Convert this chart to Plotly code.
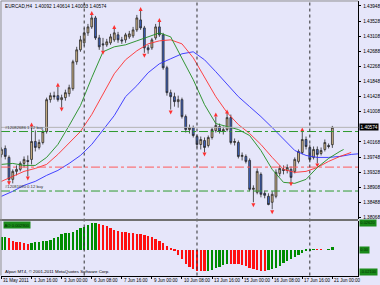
import plotly.graph_objects as go

W, H = 380, 285

# ---------------- data ----------------
open_ = [1.39821, 1.39987, 1.39738, 1.39128, 1.39350, 1.39405, 1.39571, 1.39654, 1.39682, 1.40181,
         1.40015, 1.40153, 1.40458, 1.41344, 1.41455, 1.41455, 1.41344, 1.41400, 1.41510, 1.41649,
         1.42397, 1.42729, 1.42923, 1.43200, 1.43366, 1.43615, 1.43061, 1.42895, 1.42868, 1.42923,
         1.43006, 1.43145, 1.43006, 1.43006, 1.43089, 1.43117, 1.43283, 1.43560, 1.43338, 1.42784,
         1.42784, 1.43061, 1.43366, 1.43145, 1.42231, 1.41538, 1.41427, 1.41289, 1.41344, 1.40873,
         1.40513, 1.40568, 1.40319, 1.40098, 1.40208, 1.40070, 1.40292, 1.40485, 1.40596, 1.40458,
         1.40513, 1.40845, 1.40153, 1.40153, 1.39765, 1.39765, 1.39654, 1.38851, 1.38768, 1.39267,
         1.38740, 1.38657, 1.38491, 1.38657, 1.39294, 1.39405, 1.39377, 1.39405, 1.39350, 1.39627,
         1.39876, 1.40236, 1.40015, 1.39738, 1.39959, 1.39848, 1.39959, 1.40070, 1.40092]
high = [1.40015, 1.40070, 1.39793, 1.39405, 1.39516, 1.39627, 1.39765, 1.39793, 1.40596, 1.40485,
        1.40236, 1.40513, 1.41400, 1.41538, 1.41566, 1.41704, 1.41482, 1.41621, 1.41759, 1.42452,
        1.42812, 1.43117, 1.43338, 1.43449, 1.43726, 1.43671, 1.43145, 1.43061, 1.43034, 1.43172,
        1.43311, 1.43228, 1.43089, 1.43200, 1.43255, 1.43366, 1.43699, 1.43809, 1.43394, 1.42868,
        1.43061, 1.43449, 1.43505, 1.43200, 1.42286, 1.41621, 1.41538, 1.41455, 1.41400, 1.40929,
        1.40652, 1.40624, 1.40375, 1.40319, 1.40292, 1.40347, 1.40568, 1.40873, 1.40679, 1.40596,
        1.40984, 1.40929, 1.40264, 1.40208, 1.39876, 1.39821, 1.39710, 1.38962, 1.39433, 1.39322,
        1.38823, 1.38740, 1.38796, 1.39405, 1.39516, 1.39516, 1.39544, 1.39488, 1.39738, 1.39959,
        1.40485, 1.40319, 1.40098, 1.40042, 1.40042, 1.40015, 1.40236, 1.40126, 1.40614]
low = [1.39738, 1.39682, 1.39045, 1.39017, 1.39239, 1.39350, 1.39460, 1.39211, 1.39544, 1.39904,
       1.39959, 1.40098, 1.40402, 1.41261, 1.41344, 1.41289, 1.41122, 1.41316, 1.41427, 1.41593,
       1.42314, 1.42674, 1.42840, 1.43117, 1.43311, 1.43006, 1.42729, 1.42701, 1.42812, 1.42868,
       1.42951, 1.42923, 1.42895, 1.42923, 1.43034, 1.43061, 1.43228, 1.43283, 1.42646, 1.42618,
       1.42729, 1.43006, 1.43089, 1.42175, 1.41455, 1.41067, 1.41150, 1.41122, 1.40818, 1.40430,
       1.40402, 1.40292, 1.40015, 1.39959, 1.39876, 1.40015, 1.40236, 1.40430, 1.40402, 1.40375,
       1.40458, 1.40098, 1.40070, 1.39710, 1.39654, 1.39571, 1.38796, 1.38491, 1.38713, 1.38629,
       1.38602, 1.38408, 1.38297, 1.38602, 1.39211, 1.39267, 1.39294, 1.39045, 1.39294, 1.39571,
       1.39821, 1.39959, 1.39599, 1.39682, 1.39571, 1.39793, 1.39904, 1.39987, 1.40003]
close = [1.39959, 1.39765, 1.39128, 1.39350, 1.39405, 1.39571, 1.39682, 1.39627, 1.40181, 1.40015,
         1.40153, 1.40458, 1.41344, 1.41455, 1.41427, 1.41344, 1.41400, 1.41538, 1.41676, 1.42397,
         1.42729, 1.43006, 1.43200, 1.43366, 1.43615, 1.43061, 1.42812, 1.42868, 1.42951, 1.43089,
         1.43200, 1.43006, 1.42978, 1.43145, 1.43172, 1.43283, 1.43615, 1.43338, 1.42784, 1.42729,
         1.43006, 1.43366, 1.43145, 1.42231, 1.41538, 1.41427, 1.41289, 1.41344, 1.40873, 1.40513,
         1.40568, 1.40347, 1.40098, 1.40236, 1.40015, 1.40292, 1.40513, 1.40624, 1.40458, 1.40513,
         1.40845, 1.40153, 1.40181, 1.39765, 1.39793, 1.39627, 1.38851, 1.38879, 1.39350, 1.38713,
         1.38685, 1.38429, 1.38713, 1.39322, 1.39433, 1.39377, 1.39460, 1.39183, 1.39682, 1.39904,
         1.40236, 1.40042, 1.39682, 1.39959, 1.39821, 1.39931, 1.40153, 1.40042, 1.40574]
bars = list(range(len(close)))

time_labels = ["31 May 2011", "1 Jun 16:00", "3 Jun 00:00", "6 Jun 08:00", "7 Jun 16:00",
               "9 Jun 00:00", "10 Jun 08:00", "13 Jun 16:00", "15 Jun 00:00", "16 Jun 08:00",
               "17 Jun 16:00", "21 Jun 00:00"]
time_label_bars = [0, 8, 16, 24, 32, 40, 48, 56, 64, 72, 80, 88]
week_separator_bars = [22, 52, 82]

# Alligator lines (drawn positions, already shifted)
lips_x = [0, 3, 6, 9, 12, 15, 18, 21, 24, 27, 30, 33, 36, 39, 42, 45, 48, 51, 54, 57, 60, 63, 66,
          69, 72, 75, 78, 81, 84, 87, 90, 91]
lips = [1.39544, 1.39571, 1.39516, 1.39516, 1.39738, 1.40098, 1.40624, 1.41178, 1.41953, 1.42674,
        1.42812, 1.42868, 1.42978, 1.43089, 1.43200, 1.43089, 1.42480, 1.41898, 1.41206, 1.40679,
        1.40596, 1.40513, 1.40347, 1.39931, 1.39405, 1.39045, 1.39017, 1.39128, 1.39460, 1.39710,
        1.39904, 1.39959]
teeth_x = [0, 3, 6, 9, 12, 15, 18, 21, 24, 27, 30, 33, 36, 39, 42, 45, 48, 51, 54, 57, 60, 63, 66,
           69, 72, 75, 78, 81, 84, 87, 90, 93]
teeth = [1.39073, 1.39211, 1.39350, 1.39433, 1.39544, 1.39821, 1.40153, 1.40458, 1.40929, 1.41510,
         1.42064, 1.42452, 1.42701, 1.42895, 1.42978, 1.43006, 1.42895, 1.42508, 1.41981, 1.41427,
         1.40984, 1.40652, 1.40402, 1.40098, 1.39738, 1.39405, 1.39322, 1.39350, 1.39460, 1.39627,
         1.39765, 1.39876]
jaw_x = [0, 3, 6, 9, 12, 15, 18, 21, 24, 27, 30, 33, 36, 39, 42, 45, 48, 51, 54, 57, 60, 63, 66,
         69, 72, 75, 78, 81, 84, 87, 90, 93, 96]
jaw = [1.38657, 1.38796, 1.38962, 1.39073, 1.39239, 1.39377, 1.39571, 1.39793, 1.40098, 1.40485,
       1.40901, 1.41427, 1.41732, 1.42092, 1.42341, 1.42480, 1.42618, 1.42674, 1.42452, 1.42120,
       1.41787, 1.41427, 1.41150, 1.40873, 1.40568, 1.40236, 1.39931, 1.39793, 1.39738, 1.39738,
       1.39765, 1.39821, 1.39848]

# Fractals
frac_up_bars = [8, 15, 24, 30, 37, 42, 57, 60, 80]
frac_up_pos = [1.40707, 1.41815, 1.43809, 1.43422, 1.43920, 1.43615, 1.40984, 1.41067, 1.40568]
frac_dn_bars = [2, 7, 16, 27, 38, 45, 54, 67, 72, 77, 84]
frac_dn_pos = [1.38962, 1.39100, 1.41012, 1.42591, 1.42508, 1.40929, 1.39765, 1.38352, 1.38159,
               1.38934, 1.39460]

# Awesome Oscillator
ao = [0.0126, 0.0127, 0.0113, 0.0090, 0.0081, 0.0075, 0.0065, 0.0061, 0.0068, 0.0075,
      0.0078, 0.0084, 0.0090, 0.0100, 0.0113, 0.0126, 0.0152, 0.0162, 0.0165, 0.0178,
      0.0194, 0.0210, 0.0226, 0.0245, 0.0259, 0.0262, 0.0255, 0.0243, 0.0230, 0.0210,
      0.0197, 0.0184, 0.0178, 0.0172, 0.0168, 0.0162, 0.0158, 0.0152, 0.0143, 0.0133,
      0.0123, 0.0107, 0.0087, 0.0068, 0.0042, 0.0010, -0.0007, -0.0046, -0.0087, -0.0136,
      -0.0168, -0.0184, -0.0201, -0.0207, -0.0210, -0.0204, -0.0191, -0.0178, -0.0162, -0.0146,
      -0.0133, -0.0134, -0.0135, -0.0136, -0.0146, -0.0158, -0.0172, -0.0184, -0.0194, -0.0201,
      -0.0204, -0.0194, -0.0184, -0.0172, -0.0152, -0.0129, -0.0110, -0.0087, -0.0068, -0.0049,
      -0.0029, -0.0013, -0.0004, 0.0003, 0.0002, 0.0001, 0.0000, 0.0005, 0.0029]

price_ticks = [1.43948, 1.43528, 1.43108, 1.42688, 1.42268, 1.41848, 1.41428, 1.41008,
               1.40168, 1.39748, 1.39328, 1.38908, 1.38488, 1.38068]
bid = 1.40574
order_lines = [1.40458, 1.38804]
order_labels = ["#12082686 1.12 buy", "#12081690 0.12 buy"]
stop_line = 1.39469
header = "EURCAD,H4  1.40092 1.40614 1.40003 1.40574"
copyright_txt = "Alpari MT4, \u00a9 2001-2011 MetaQuotes Software Corp."

# ---------------- layout geometry ----------------
BG = "#e6e6fa"
FONT = "Liberation Sans"
FS = 4.7
px = lambda v: v / W
py = lambda v: 1 - v / H
X0, X1 = px(1), px(362)
MAIN = [py(220), py(1)]
SUB = [py(276.5), py(222)]

fig = go.Figure()

fig.add_trace(go.Candlestick(
    x=bars, open=open_, high=high, low=low, close=close,
    increasing=dict(fillcolor="#d9bc8c", line=dict(color="#2a2a2a", width=0.8)),
    decreasing=dict(fillcolor="#3c64c8", line=dict(color="#2a2a2a", width=0.8)),
    whiskerwidth=0, showlegend=False, hoverinfo="skip", xaxis="x", yaxis="y"))

fig.add_trace(go.Scatter(x=jaw_x, y=jaw, mode="lines", line=dict(color="#3030ff", width=0.9),
                         showlegend=False, hoverinfo="skip"))
fig.add_trace(go.Scatter(x=teeth_x, y=teeth, mode="lines", line=dict(color="#ff3030", width=0.9),
                         showlegend=False, hoverinfo="skip"))
fig.add_trace(go.Scatter(x=lips_x, y=lips, mode="lines", line=dict(color="#1e8c1e", width=0.9),
                         showlegend=False, hoverinfo="skip"))

fig.add_trace(go.Scatter(x=frac_up_bars, y=frac_up_pos, mode="markers",
                         marker=dict(symbol="arrow-up", size=4, color="#ff3030",
                                     line=dict(width=0)),
                         showlegend=False, hoverinfo="skip"))
fig.add_trace(go.Scatter(x=frac_dn_bars, y=frac_dn_pos, mode="markers",
                         marker=dict(symbol="arrow-down", size=4, color="#ff3030",
                                     line=dict(width=0)),
                         showlegend=False, hoverinfo="skip"))

ao_colors = []
for i, v in enumerate(ao):
    ao_colors.append("#008c00" if i == 0 or v >= ao[i - 1] else "#ff1010")
fig.add_trace(go.Bar(x=bars, y=ao, marker=dict(color=ao_colors, line=dict(width=0)),
                     width=0.62, xaxis="x", yaxis="y2", showlegend=False, hoverinfo="skip"))

shapes = []
shapes.append(dict(type="line", xref="paper", x0=X0, x1=X1, yref="y", y0=bid, y1=bid,
                   line=dict(color="#b4b4b4", width=1)))
for v in order_lines:
    shapes.append(dict(type="line", xref="paper", x0=X0, x1=X1, yref="y", y0=v, y1=v,
                       line=dict(color="#2e9a2e", width=1, dash="dashdot")))
shapes.append(dict(type="line", xref="paper", x0=X0, x1=X1, yref="y", y0=stop_line, y1=stop_line,
                   line=dict(color="#ff5a5a", width=1, dash="dashdot")))
for b in week_separator_bars:
    shapes.append(dict(type="line", xref="x", x0=b, x1=b, yref="paper", y0=SUB[0], y1=MAIN[1],
                       line=dict(color="#303030", width=1, dash="dot")))
shapes.append(dict(type="line", xref="paper", x0=0, x1=X1, yref="paper", y0=py(220.8), y1=py(220.8),
                   line=dict(color="#707070", width=2)))
shapes.append(dict(type="line", xref="paper", x0=X0, x1=X0, yref="paper", y0=SUB[0], y1=MAIN[1],
                   line=dict(color="#909090", width=1)))
shapes.append(dict(type="line", xref="paper", x0=X0, x1=X1, yref="paper", y0=MAIN[1], y1=MAIN[1],
                   line=dict(color="#909090", width=1)))

ann = []
ann.append(dict(xref="paper", yref="paper", x=px(3), y=py(2), xanchor="left", yanchor="top",
                text=header, showarrow=False, font=dict(family=FONT, size=FS, color="#000")))
for v, t in zip(order_lines, order_labels):
    ann.append(dict(xref="paper", yref="y", x=px(3), y=v, xanchor="left", yanchor="bottom",
                    text=t, showarrow=False, font=dict(family=FONT, size=4.2, color="#303030")))
ann.append(dict(xref="paper", yref="y", x=X1 + px(1), y=bid, xanchor="left", yanchor="middle",
                text=f"{bid:.5f}", showarrow=False, bgcolor="#000000", borderpad=0.5,
                font=dict(family=FONT, size=FS, color="#ffffff")))
for b, t in zip(time_label_bars, time_labels):
    ann.append(dict(xref="x", yref="paper", x=b, y=py(281), xanchor="left", yanchor="middle",
                    text=t, showarrow=False, font=dict(family=FONT, size=4.5, color="#000")))
ann.append(dict(xref="paper", yref="paper", x=px(3), y=py(272.5), xanchor="left", yanchor="middle",
                text=copyright_txt, showarrow=False, font=dict(family=FONT, size=4.4, color="#000")))
ann.append(dict(xref="paper", yref="paper", x=px(3), y=py(225.5), xanchor="left", yanchor="middle",
                text=f"AO {ao[-1]:.6f}", showarrow=False, bgcolor="#1a8a1a", borderpad=0.5,
                font=dict(family=FONT, size=4.2, color="#003000")))
for v, t in [(max(ao), f"{max(ao):.5f}"), (0, "0.00"), (min(ao), f"{min(ao):.5f}")]:
    ann.append(dict(xref="paper", yref="y2", x=X1 + px(1), y=v, xanchor="left", yanchor="middle",
                    text=t, showarrow=False, bgcolor="#1a8a1a", borderpad=0.3,
                    font=dict(family=FONT, size=4.0, color="#003000")))

fig.update_layout(
    width=W, height=H, margin=dict(l=0, r=0, t=0, b=0),
    paper_bgcolor=BG, plot_bgcolor=BG, showlegend=False,
    bargap=0,
    xaxis=dict(domain=[X0, X1], range=[-0.13, 94.87], anchor="y2", showgrid=False,
               zeroline=False, rangeslider=dict(visible=False), tickvals=time_label_bars,
               showticklabels=False, ticks="outside", ticklen=2, tickcolor="#000",
               showline=True, linecolor="#000", linewidth=1),
    yaxis=dict(domain=MAIN, range=[1.38020, 1.44086], side="right", anchor="x",
               showgrid=False, zeroline=False, tickvals=price_ticks,
               ticktext=[f"{v:.5f}" for v in price_ticks], ticks="outside", ticklen=2,
               tickcolor="#000", showline=True, linecolor="#000", linewidth=1,
               tickfont=dict(family=FONT, size=FS, color="#000"), ticklabelstandoff=1),
    yaxis2=dict(domain=SUB, range=[-0.02474, 0.02813], side="right", anchor="x",
                showgrid=False, zeroline=False, showticklabels=False, ticks="",
                showline=True, linecolor="#000", linewidth=1),
    shapes=shapes, annotations=ann,
)

fig.write_html("out.html", config={"displayModeBar": False})
